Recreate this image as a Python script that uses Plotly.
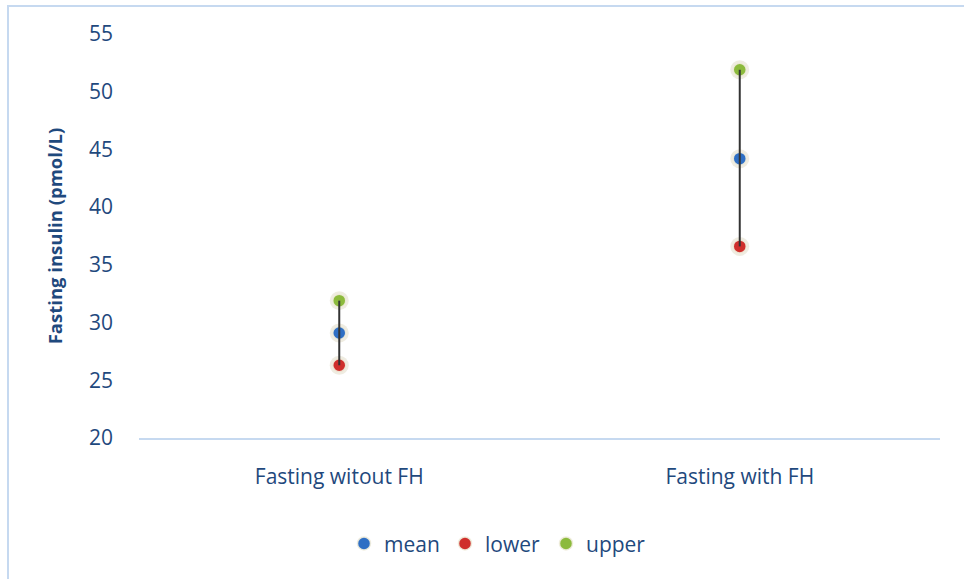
import plotly.graph_objects as go

categories = ["Fasting witout FH", "Fasting with FH"]
mean_vals = [29.1, 44.2]
lower_vals = [26.3, 36.6]
upper_vals = [31.9, 51.9]

series = [
    ("mean", mean_vals, "#2f6fc4"),
    ("lower", lower_vals, "#cf2f2c"),
    ("upper", upper_vals, "#8cba3c"),
]

text_color = "#1f497d"
font_family = "'Open Sans', sans-serif"

fig = go.Figure()

# soft halo under each marker
for name, vals, color in series:
    fig.add_trace(go.Scatter(
        x=categories, y=vals, mode="markers",
        marker=dict(size=19, color="rgba(225,220,200,0.55)", line=dict(width=0)),
        showlegend=False, hoverinfo="skip",
    ))

for name, vals, color in series:
    fig.add_trace(go.Scatter(
        x=categories, y=vals, mode="markers", name=name,
        marker=dict(size=13, color=color,
                    line=dict(width=1.5, color="rgba(240,236,220,0.9)")),
    ))

# high-low lines joining lower and upper
hx, hy = [], []
for c, lo, hi in zip(categories, lower_vals, upper_vals):
    hx += [c, c, None]
    hy += [hi, lo, None]
fig.add_trace(go.Scatter(
    x=hx, y=hy, mode="lines", line=dict(color="#333333", width=2),
    showlegend=False, hoverinfo="skip",
))

fig.update_layout(
    width=964, height=579,
    margin=dict(l=139, r=24, t=34, b=141),
    paper_bgcolor="white", plot_bgcolor="white",
    font=dict(family=font_family, color=text_color, size=21),
    showlegend=True,
    legend=dict(orientation="h", x=(344 - 139) / 801, xanchor="left", y=-0.262, yanchor="middle",
                font=dict(size=21, color=text_color), itemwidth=30,
                entrywidth=56, entrywidthmode="pixels",
                tracegroupgap=0, bgcolor="rgba(0,0,0,0)"),
    xaxis=dict(
        type="category", range=[-0.5, 1.5],
        showgrid=False, showline=True, linecolor="#c6d9f0", linewidth=1.5,
        ticks="", tickfont=dict(size=21, color=text_color),
        ticklabelstandoff=19, zeroline=False,
    ),
    yaxis=dict(
        range=[20, 55], dtick=5, showgrid=False, showline=False, zeroline=False,
        ticks="", tickfont=dict(size=21, color=text_color), ticklabelstandoff=25,
        title=dict(text="<b>Fasting insulin (pmol/L)</b>", font=dict(size=18.5, color=text_color),
                   standoff=21),
    ),
    shapes=[dict(
        type="rect", xref="paper", yref="paper",
        x0=(8 - 139) / 801, x1=1.2, y0=-0.5, y1=(438 - 6) / 404,
        line=dict(color="#c6d9f0", width=2), fillcolor="rgba(0,0,0,0)", layer="below",
    )],
)

fig.write_html("out.html")
